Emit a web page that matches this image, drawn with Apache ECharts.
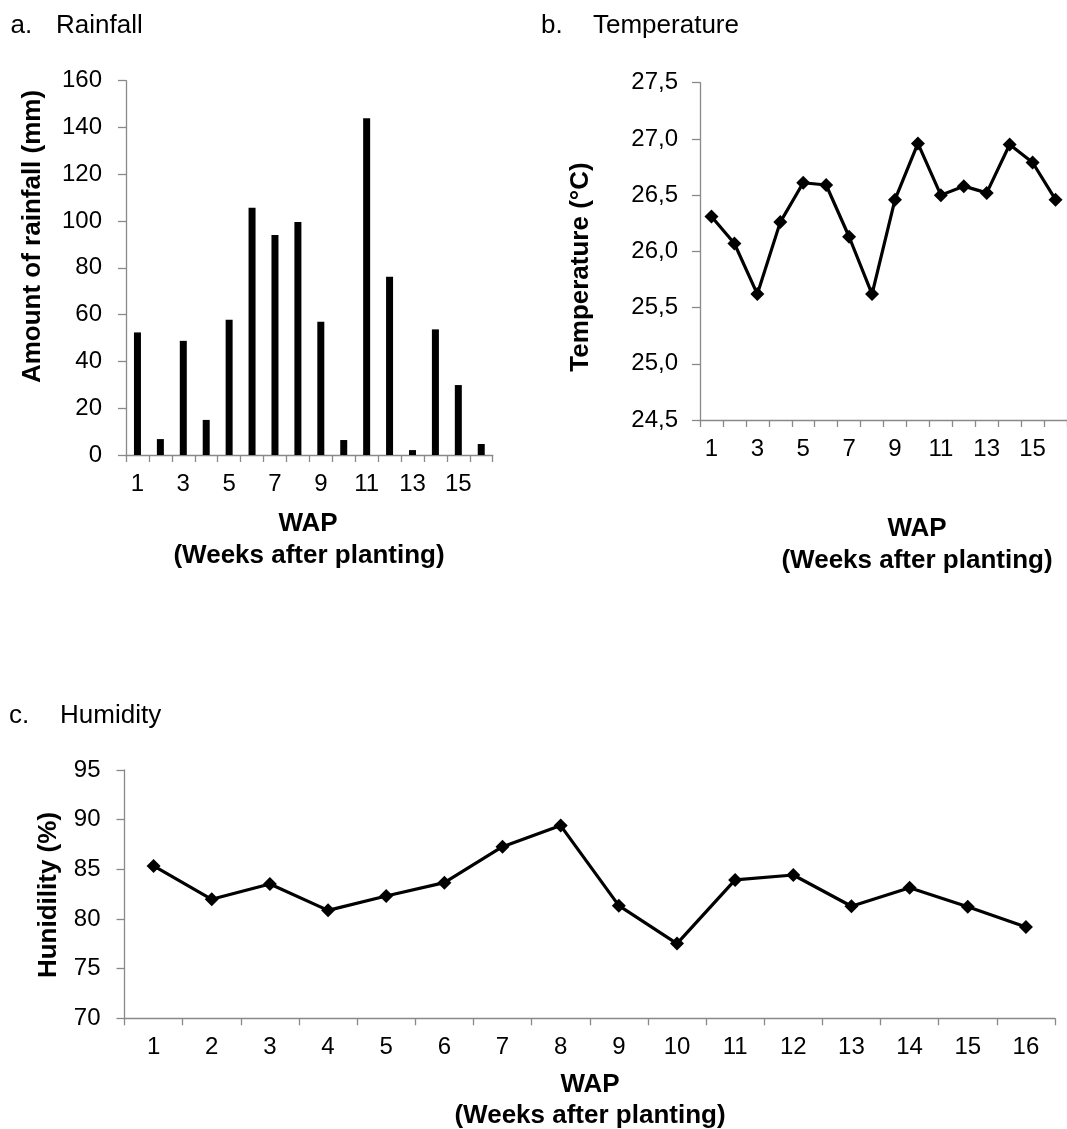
<!DOCTYPE html>
<html>
<head>
<meta charset="utf-8">
<script src="https://cdn.jsdelivr.net/npm/echarts@6/dist/echarts.min.js"></script>
<style>
html,body{margin:0;padding:0;background:#fff;}
#chart{width:1067px;height:1129px;}
</style>
</head>
<body>
<div id="chart"></div>
<script>
var weeks = ['1','2','3','4','5','6','7','8','9','10','11','12','13','14','15','16'];
var rainfall = [52.4, 6.8, 48.8, 15, 57.8, 105.7, 94, 99.6, 57, 6.4, 144, 76.2, 2.1, 53.7, 29.9, 4.7];
var temperature = [26.31, 26.07, 25.62, 26.26, 26.61, 26.59, 26.13, 25.62, 26.46, 26.96, 26.5, 26.58, 26.52, 26.95, 26.79, 26.46];
var humidity = [85.34, 81.98, 83.52, 80.87, 82.32, 83.66, 87.28, 89.4, 81.34, 77.52, 83.93, 84.43, 81.28, 83.15, 81.24, 79.19];
var rainTicks = [0, 20, 40, 60, 80, 100, 120, 140, 160];
var tempTicks = ['24,5', '25,0', '25,5', '26,0', '26,5', '27,0', '27,5'];
var humTicks = [70, 75, 80, 85, 90, 95];

var FONT = "'Liberation Sans', Arial, sans-serif";
var AX = '#898989';
var chart = echarts.init(document.getElementById('chart'), null, {renderer: 'canvas'});

function catAxis(gi, labelInterval) {
  return {
    type: 'category', gridIndex: gi, data: weeks, boundaryGap: true,
    axisLine: {show: true, lineStyle: {color: AX, width: 1.3}},
    axisTick: {show: true, interval: 0, length: 7, lineStyle: {color: AX, width: 1.3}},
    axisLabel: {interval: labelInterval, color: '#000', fontFamily: FONT, fontSize: 24, margin: 17},
    splitLine: {show: false}
  };
}
function valAxis(gi, min, max, interval, fmt, margin) {
  return {
    type: 'value', gridIndex: gi, min: min, max: max, interval: interval,
    axisLine: {show: true, lineStyle: {color: AX, width: 1.3}},
    axisTick: {show: true, length: 8, lineStyle: {color: AX, width: 1.3}},
    axisLabel: {color: '#000', fontFamily: FONT, fontSize: 24, margin: margin, formatter: fmt},
    splitLine: {show: false}
  };
}

function txt(text, x, y, opts) {
  opts = opts || {};
  return {
    type: 'text', x: x, y: y, rotation: opts.rot || 0,
    style: {
      text: text,
      font: (opts.bold ? 'bold ' : '') + (opts.size || 26) + 'px ' + FONT,
      fill: '#000',
      align: opts.align || 'left',
      verticalAlign: 'middle'
    }
  };
}

var option = {
  animation: false,
  backgroundColor: '#fff',
  grid: [
    {left: 126, top: 80.7, width: 366.7, height: 374.3},
    {left: 700, top: 82.7, width: 375, height: 337.3},
    {left: 124.5, top: 770, width: 930.5, height: 248.3}
  ],
  xAxis: [catAxis(0, 1), catAxis(1, 1), catAxis(2, 0)],
  yAxis: [
    valAxis(0, rainTicks[0], rainTicks[rainTicks.length - 1], 20, function (v) { return String(v); }, 24),
    valAxis(1, 24.5, 27.5, 0.5, function (v) { return tempTicks[Math.round((v - 24.5) / 0.5)]; }, 22),
    valAxis(2, humTicks[0], humTicks[humTicks.length - 1], 5, function (v) { return String(v); }, 24)
  ],
  series: [
    {type: 'bar', xAxisIndex: 0, yAxisIndex: 0, data: rainfall, barWidth: 7,
     itemStyle: {color: '#000'}},
    {type: 'line', xAxisIndex: 1, yAxisIndex: 1, data: temperature,
     symbol: 'diamond', symbolSize: 14, showSymbol: true,
     lineStyle: {color: '#000', width: 3.2}, itemStyle: {color: '#000'}},
    {type: 'line', xAxisIndex: 2, yAxisIndex: 2, data: humidity,
     symbol: 'diamond', symbolSize: 14, showSymbol: true,
     lineStyle: {color: '#000', width: 3.2}, itemStyle: {color: '#000'}}
  ],
  graphic: [
    txt('a.', 10.5, 26),
    txt('Rainfall', 56, 26),
    txt('b.', 541, 26),
    txt('Temperature', 593, 26),
    txt('c.', 9, 716),
    txt('Humidity', 60, 716),
    txt('Amount of rainfall (mm)', 33, 236.5, {bold: true, rot: Math.PI / 2, align: 'center'}),
    txt('Temperature (°C)', 581, 267, {bold: true, rot: Math.PI / 2, align: 'center'}),
    txt('Hunidility (%)', 49, 895, {bold: true, rot: Math.PI / 2, align: 'center'}),
    txt('WAP', 308, 524, {bold: true, align: 'center'}),
    txt('(Weeks after planting)', 309, 556, {bold: true, align: 'center'}),
    txt('WAP', 917, 529, {bold: true, align: 'center'}),
    txt('(Weeks after planting)', 917, 561, {bold: true, align: 'center'}),
    txt('WAP', 590, 1085, {bold: true, align: 'center'}),
    txt('(Weeks after planting)', 590, 1116, {bold: true, align: 'center'})
  ]
};
chart.setOption(option);
</script>
</body>
</html>
